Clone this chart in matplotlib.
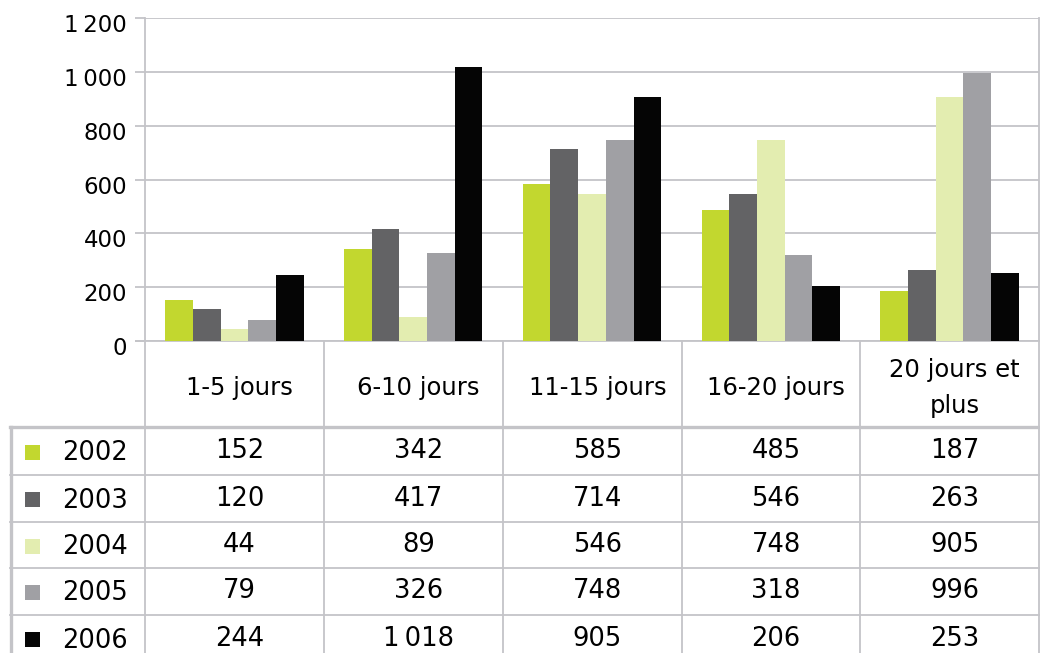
import numpy as np
import matplotlib
matplotlib.use("Agg")
import matplotlib.pyplot as plt
import matplotlib.transforms as mtransforms

# data
categories = ["1-5 jours", "6-10 jours", "11-15 jours", "16-20 jours", "20 jours et\nplus"]
years = ["2002", "2003", "2004", "2005", "2006"]
v2002 = [152, 342, 585, 485, 187]
v2003 = [120, 417, 714, 546, 263]
v2004 = [44, 89, 546, 748, 905]
v2005 = [79, 326, 748, 318, 996]
v2006 = [244, 1018, 905, 206, 253]
series = [v2002, v2003, v2004, v2005, v2006]
colors = ["#C2D72F", "#636365", "#E3EDB0", "#A0A0A4", "#050505"]
yticks = [0, 200, 400, 600, 800, 1000, 1200]

GRID = "#C4C4C8"
W, H = 1040, 653


def fmt(v):
    # french style thousands separator (thin space)
    return f"{v:,}".replace(",", "\u2009")


plt.rcParams['font.family'] = ['DejaVu Sans']

fig = plt.figure(figsize=(W / 100, H / 100), dpi=100)

# overlay axes in pixel coordinates for the data table
tab = fig.add_axes([0, 0, 1, 1])
tab.set_xlim(0, W)
tab.set_ylim(H, 0)
tab.axis("off")
tab.patch.set_alpha(0)

# bar chart area
left, right, top, bottom = 145, 1039, 18, 341
ax = fig.add_axes([left / W, (H - bottom) / H, (right - left) / W, (bottom - top) / H])
ax.patch.set_alpha(0)

x = np.arange(len(categories))
bw = 0.155
for i, (vals, c) in enumerate(zip(series, colors)):
    ax.bar(x + (i - 2) * bw, vals, width=bw, color=c, zorder=3)

ax.set_xlim(-0.5, len(categories) - 0.5)
ax.set_ylim(0, 1200)
ax.set_yticks(yticks)
ax.set_yticklabels([fmt(t) for t in yticks], fontsize=16.5)
ax.set_xticks([])
ax.yaxis.grid(True, color=GRID, lw=1.3, zorder=0)
ax.tick_params(axis="y", length=7, width=1.3, color=GRID, pad=6)
for s in ["left", "right"]:
    ax.spines[s].set_color(GRID)
    ax.spines[s].set_linewidth(1.3)
ax.spines["top"].set_visible(False)
ax.spines["bottom"].set_visible(False)

# nudge y labels slightly down like the reference
off = mtransforms.ScaledTranslation(0, -5 / 100, fig.dpi_scale_trans)
for lab in ax.get_yticklabels():
    lab.set_transform(lab.get_transform() + off)

# table grid
col_edges = [145, 324, 503, 682, 860, 1039]
row_edges = [427, 475, 522, 568, 615, 662]
tab.plot([136, 1039], [341, 341], color=GRID, lw=1.3)
for xe in col_edges:
    tab.plot([xe, xe], [341, H], color=GRID, lw=1.3)
tab.plot([10, 1039], [row_edges[0], row_edges[0]], color=GRID, lw=2.4)
for ye in row_edges[1:-1]:
    tab.plot([10, 1039], [ye, ye], color=GRID, lw=1.3)
tab.plot([11, 11], [row_edges[0], H], color=GRID, lw=2.4)

col_centers = [(a + b) / 2 + 5 for a, b in zip(col_edges[:-1], col_edges[1:])]
for cx, cat in zip(col_centers, categories):
    tab.text(cx, 388, cat, ha="center", va="center", fontsize=17.5, linespacing=1.6)

for r, (yr, vals, c) in enumerate(zip(years, series, colors)):
    cy = (row_edges[r] + row_edges[r + 1]) / 2
    tab.add_patch(plt.Rectangle((25, cy - 6.5), 15, 15, color=c, lw=0))
    tab.text(62, cy + 2, yr, ha="left", va="center", fontsize=18.5)
    for cx, v in zip(col_centers, vals):
        tab.text(cx, cy, fmt(v), ha="center", va="center", fontsize=18.5)

fig.savefig("out.png", dpi=100)
